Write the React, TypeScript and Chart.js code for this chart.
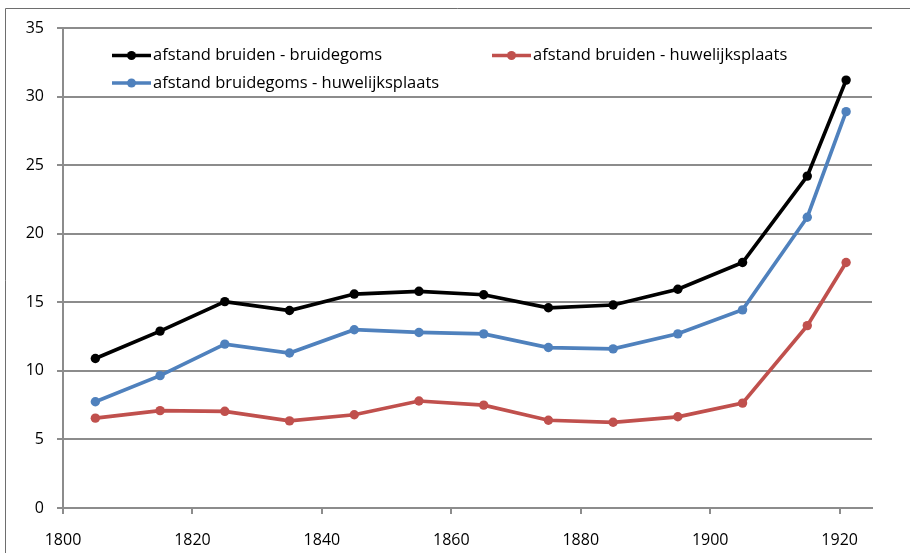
import React, { useEffect, useRef } from "react";
import { Chart, registerables } from "chart.js";

Chart.register(...registerables);

const years = [1805, 1815, 1825, 1835, 1845, 1855, 1865, 1875, 1885, 1895, 1905, 1915, 1921];
const bruidenBruidegoms = [10.9, 12.9, 15.05, 14.4, 15.6, 15.8, 15.55, 14.6, 14.8, 15.95, 17.9, 24.2, 31.2];
const bruidenHuwelijksplaats = [6.55, 7.1, 7.05, 6.35, 6.8, 7.8, 7.5, 6.4, 6.25, 6.65, 7.65, 13.3, 17.9];
const bruidegomsHuwelijksplaats = [7.75, 9.65, 11.95, 11.3, 13.0, 12.8, 12.7, 11.7, 11.6, 12.7, 14.45, 21.2, 28.9];
const seriesNames = [
  "afstand bruiden - bruidegoms",
  "afstand bruiden - huwelijksplaats",
  "afstand bruidegoms - huwelijksplaats",
];
const seriesColors = ["#000000", "#C0504D", "#4F81BD"];
const xTickValues = [1800, 1820, 1840, 1860, 1880, 1900, 1920];
const yTickStep = 5;

const FONT = "'Open Sans', sans-serif";

const toPoints = (vals: number[]) => years.map((x, i) => ({ x, y: vals[i] }));

const legendPlugin = {
  id: "customLegend",
  afterDraw(chart: any) {
    const ctx = chart.ctx;
    const items = [
      { x: 112, y: 55.5, i: 0 },
      { x: 492, y: 55.5, i: 1 },
      { x: 112, y: 83, i: 2 },
    ];
    ctx.save();
    items.forEach((it) => {
      const color = seriesColors[it.i];
      ctx.strokeStyle = color;
      ctx.lineWidth = 3.5;
      ctx.beginPath();
      ctx.moveTo(it.x, it.y);
      ctx.lineTo(it.x + 39, it.y);
      ctx.stroke();
      ctx.fillStyle = color;
      ctx.beginPath();
      ctx.arc(it.x + 19.5, it.y, 4.5, 0, Math.PI * 2);
      ctx.fill();
      ctx.fillStyle = "#000000";
      ctx.font = `16.5px ${FONT}`;
      ctx.textBaseline = "middle";
      ctx.textAlign = "left";
      ctx.fillText(seriesNames[it.i], it.x + 41, it.y);
    });
    ctx.restore();
  },
};

const framePlugin = {
  id: "frame",
  beforeDraw(chart: any) {
    const ctx = chart.ctx;
    ctx.save();
    ctx.fillStyle = "#ffffff";
    ctx.fillRect(0, 0, chart.width, chart.height);
    ctx.strokeStyle = "#6e6e6e";
    ctx.lineWidth = 1;
    ctx.beginPath();
    ctx.moveTo(5.5, chart.height);
    ctx.lineTo(5.5, 8.5);
    ctx.lineTo(chart.width, 8.5);
    ctx.stroke();
    ctx.restore();
  },
};

export default function App() {
  const ref = useRef<HTMLCanvasElement | null>(null);
  useEffect(() => {
    if (!ref.current) return;
    const datasets = [bruidenBruidegoms, bruidenHuwelijksplaats, bruidegomsHuwelijksplaats].map((vals, i) => ({
      label: seriesNames[i],
      data: toPoints(vals),
      borderColor: seriesColors[i],
      backgroundColor: seriesColors[i],
      borderWidth: 3.7,
      pointRadius: 4.7,
      pointHoverRadius: 4.7,
      pointBorderWidth: 0,
      tension: 0,
      showLine: true,
    }));
    const ordered = [datasets[1], datasets[2], datasets[0]];
    const chart = new Chart(ref.current, {
      type: "scatter",
      data: { datasets: ordered as any },
      options: {
        animation: false,
        responsive: false,
        maintainAspectRatio: false,
        layout: { padding: { top: 28, right: 38, bottom: 0, left: 0 } },
        plugins: { legend: { display: false }, tooltip: { enabled: false } },
        scales: {
          x: {
            type: "linear",
            min: 1800,
            max: 1925,
            afterBuildTicks: (scale: any) => {
              scale.ticks = xTickValues.map((v) => ({ value: v }));
            },
            afterFit: (scale: any) => {
              scale.height = 45;
            },
            ticks: {
              color: "#000000",
              font: { family: FONT, size: 16 },
              padding: 17,
              maxRotation: 0,
              autoSkip: false,
              callback: (v: any) => String(v),
            },
            grid: {
              drawOnChartArea: false,
              drawTicks: true,
              tickLength: 6,
              color: "#8c8c8c",
              lineWidth: 2,
            },
            border: { color: "#8c8c8c", width: 2 },
          },
          y: {
            min: 0,
            max: 35,
            afterFit: (scale: any) => {
              scale.width = 63;
            },
            ticks: {
              stepSize: yTickStep,
              color: "#000000",
              font: { family: FONT, size: 16 },
              padding: 13,
            },
            grid: {
              color: "#8c8c8c",
              lineWidth: 2,
              tickLength: 6,
            },
            border: { color: "#8c8c8c", width: 2 },
          },
        },
      },
      plugins: [framePlugin, legendPlugin],
    });
    return () => chart.destroy();
  }, []);
  return (
    <div style={{ position: "fixed", left: 0, top: 0, width: 910, height: 553, background: "#fff" }}>
      <canvas ref={ref} width={910} height={553} style={{ width: 910, height: 553, display: "block" }} />
    </div>
  );
}
